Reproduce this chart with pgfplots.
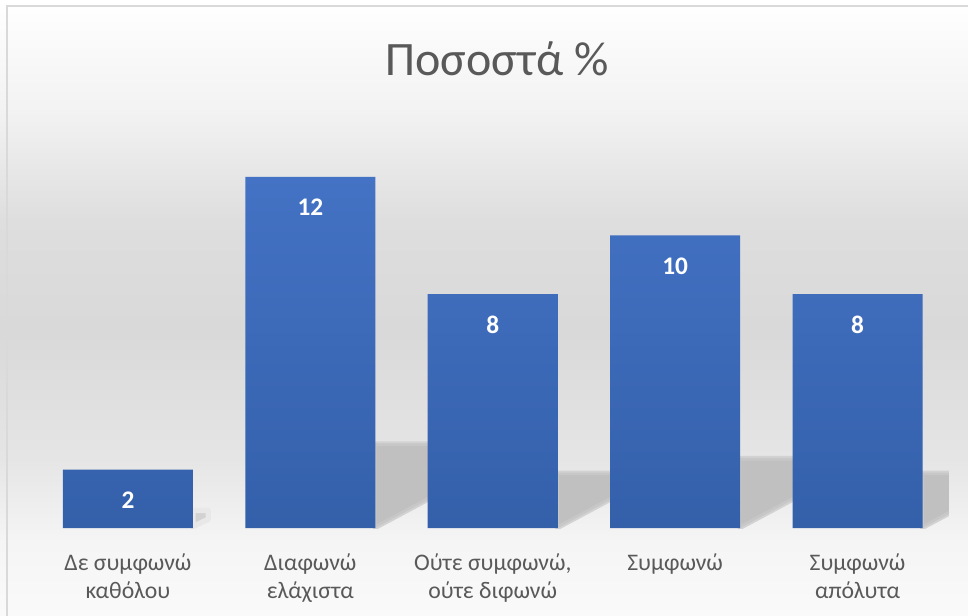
\documentclass[border=0pt]{standalone}
\usepackage{fontspec}
\setmainfont{Carlito}
\usepackage{pgfplots}
\pgfplotsset{compat=1.18}
\definecolor{txtgray}{HTML}{595959}
\definecolor{bartop}{HTML}{4472C4}
\definecolor{barbot}{HTML}{3460AA}
\definecolor{framegray}{HTML}{D9D9D9}
\definecolor{shadowdark}{HTML}{C0C0C0}
\definecolor{shadowmid}{HTML}{D2D2D2}
\pgfdeclareverticalshading{bgshade}{100bp}{%
  color(0bp)=(white!98!black);
  color(25bp)=(white!98!black);
  color(31bp)=(white!96!black);
  color(37.6bp)=(white!90!black);
  color(48bp)=(white!85!black);
  color(57bp)=(white!87!black);
  color(66bp)=(white!95!black);
  color(75bp)=(white);
  color(100bp)=(white)}
\pgfplotsset{shadowstyle/.style={draw=shadowmid, line width=5pt, line join=round, fill=shadowdark, forget plot,
  postaction={draw=shadowdark!60!shadowmid, line width=2pt}}}
\begin{document}
\begin{tikzpicture}[x=1pt,y=1pt]
\useasboundingbox (0,0) rectangle (726,461.25);
\shade[shading=bgshade] (0,0) rectangle (726,461.25);
\draw[framegray, line width=1.5pt] (5.25,-2) -- (5.25,456.75) -- (730,456.75);
\node[text=txtgray, font=\fontsize{36}{42}\selectfont] at (372.75,417.5) {Ποσοστά \%};
\begin{axis}[
  at={(27.56pt,65.25pt)}, anchor=south west,
  scale only axis, width=684pt, height=307.125pt,
  xmin=-0.5, xmax=4.5, ymin=0, ymax=14,
  axis line style={draw=none},
  ytick=\empty,
  xtick={0,1,2,3,4},
  xticklabels={{Δε συμφωνώ\\καθόλου},{Διαφωνώ\\ελάχιστα},{Ούτε συμφωνώ,\\ούτε διφωνώ},{Συμφωνώ},{Συμφωνώ\\απόλυτα}},
  major tick length=0pt,
  xticklabel style={align=center, text=txtgray, font=\fontsize{17.8}{21}\selectfont, anchor=north, yshift=-15.5pt},
  /pgf/number format/assume math mode=true,
]
% shadows
\addplot[draw=shadowmid!50!white, line width=4pt, line join=round, fill=shadowmid, forget plot] coordinates {(0.356,0.05) (0.356,0.6) (0.44,0.6) (0.44,0.3)} -- cycle;
\addplot[shadowstyle] coordinates {(1.356,0.05) (1.356,2.85) (1.70,2.85) (1.70,1.2)} -- cycle;
\addplot[shadowstyle] coordinates {(2.356,0.05) (2.356,1.85) (2.70,1.85) (2.70,1.2)} -- cycle;
\addplot[shadowstyle] coordinates {(3.356,0.05) (3.356,2.35) (3.70,2.35) (3.70,1.2)} -- cycle;
\addplot[shadowstyle] coordinates {(4.356,0.05) (4.356,1.85) (4.70,1.85) (4.70,1.2)} -- cycle;
% bars
\addplot[ybar, bar width=97.5pt, draw=none, top color=bartop, bottom color=barbot,
  nodes near coords,
  every node near coord/.append style={anchor=center, yshift=-23pt, text=white, font=\bfseries\fontsize{19}{23}\selectfont}]
  coordinates {(0,2) (1,12) (2,8) (3,10) (4,8)};
\end{axis}
\end{tikzpicture}
\end{document}
